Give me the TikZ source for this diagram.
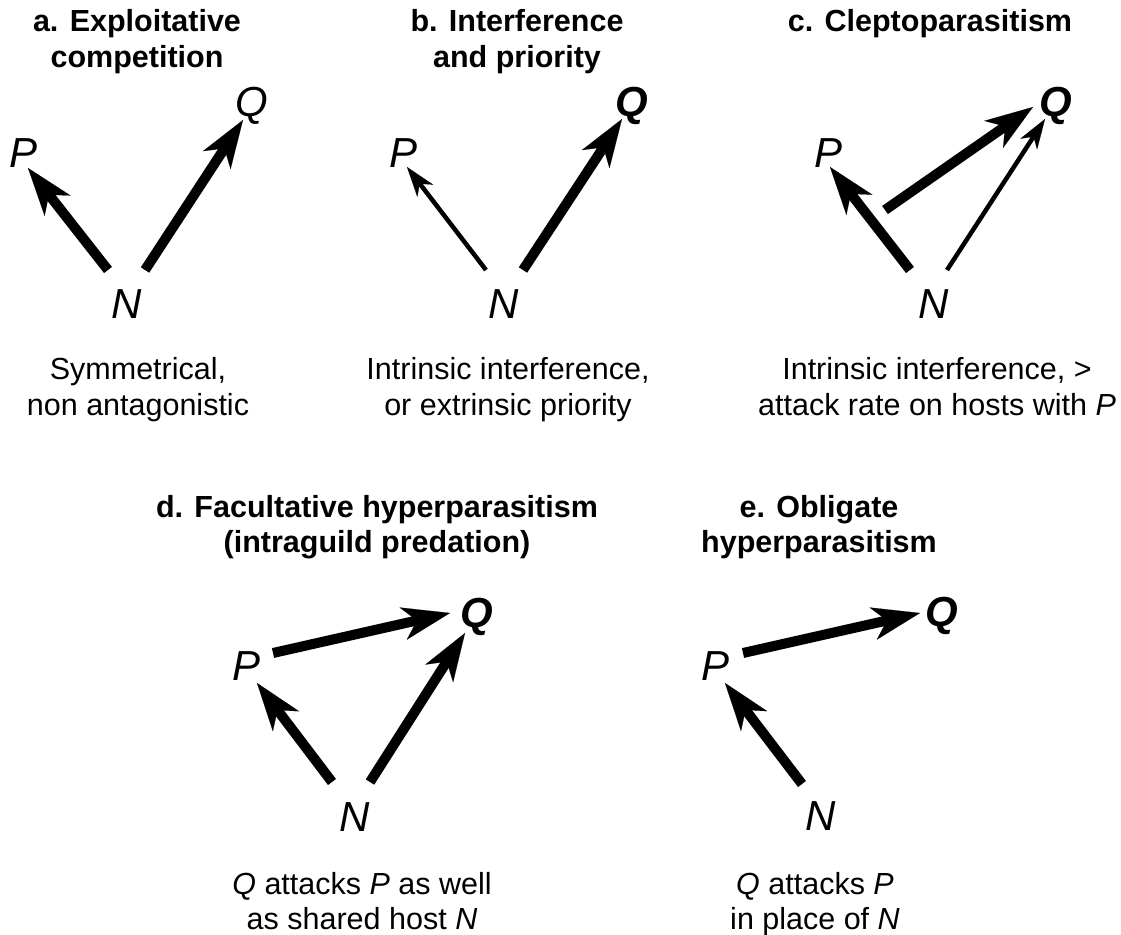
\documentclass[tikz,border=0pt]{standalone}
\usepackage{fontspec}
\setmainfont{Liberation Sans}
\usetikzlibrary{arrows.meta,calc}
\begin{document}
\begin{tikzpicture}[x=1pt,y=-1pt,
  ttl/.style={font=\fontsize{30.5}{35}\selectfont\bfseries, anchor=base, inner sep=0pt},
  captxt/.style={font=\fontsize{30.5}{35}\selectfont, anchor=base, inner sep=0pt},
  var/.style={font=\fontsize{42}{48}\selectfont\itshape, anchor=base, inner sep=0pt},
  bvar/.style={font=\fontsize{42}{48}\selectfont\bfseries\itshape, anchor=base, inner sep=0pt},
  fat/.style={line width=10pt, -{Stealth[length=48pt,width=33pt,inset=14pt,line width=0.1pt]}},
  slim/.style={line width=4.5pt, -{Stealth[length=30pt,width=20pt,inset=9pt,line width=0.1pt]}}]
\fill[white] (0,0) rectangle (1121,934);
\useasboundingbox (0,0) rectangle (1121,934);

% ---------- a ----------
\node[ttl] (ta1) at (137,32) {a. Exploitative};
\node[ttl] (ta2) at (137,67) {competition};
\node[var] (aP) at (24,167) {P};
\node[var] (aQ) at (252,116) {Q};
\node[var] (aN) at (127,318) {N};
\coordinate (aN1) at ($(aN.base)+(-19,-48)$);
\coordinate (aN2) at ($(aN.base)+(18,-48)$);
\coordinate (aPt) at ($(aP.base)+(4,1)$);
\coordinate (aQt) at ($(aQ.base)+(-9,4)$);
\draw[fat] (aN1) -- (aPt);
\draw[fat] (aN2) -- (aQt);
\node[captxt] (ca1) at (138,379) {Symmetrical,};
\node[captxt] (ca2) at (138,415) {non antagonistic};

% ---------- b ----------
\node[ttl] (tb1) at (517,32) {b. Interference};
\node[ttl] (tb2) at (517,67) {and priority};
\node[var] (bP) at (404,167) {P};
\node[bvar] (bQ) at (632,116) {Q};
\node[var] (bN) at (504,318) {N};
\coordinate (bN1) at ($(bN.base)+(-18,-48)$);
\coordinate (bN2) at ($(bN.base)+(19,-48)$);
\coordinate (bPt) at ($(bP.base)+(3,0)$);
\coordinate (bQt) at ($(bQ.base)+(-10,3)$);
\draw[slim] (bN1) -- (bPt);
\draw[fat] (bN2) -- (bQt);
\node[captxt] (cb1) at (508,379) {Intrinsic interference,};
\node[captxt] (cb2) at (508,415) {or extrinsic priority};

% ---------- c ----------
\node[ttl] (tc1) at (930,32) {c. Cleptoparasitism};
\node[var] (cP) at (828,167) {P};
\node[bvar] (cQ) at (1056,116) {Q};
\node[var] (cN) at (934,318) {N};
\coordinate (cN1) at ($(cN.base)+(-24,-48)$);
\coordinate (cN2) at ($(cN.base)+(13,-48)$);
\coordinate (cPt) at ($(cP.base)+(2,0)$);
\coordinate (cQt) at ($(cQ.base)+(-11,3)$);
\coordinate (cPs) at ($(cP.base)+(57,43)$);
\coordinate (cQt2) at ($(cQ.base)+(-23,-9)$);
\draw[fat] (cN1) -- (cPt);
\draw[slim] (cN2) -- (cQt);
\draw[fat] (cPs) -- (cQt2);
\node[captxt] (cc1) at (937,379) {Intrinsic interference, >};
\node[captxt] (cc2) at (937,415) {attack rate on hosts with \textit{P}};

% ---------- d ----------
\node[ttl] (td1) at (377,517) {d. Facultative hyperparasitism};
\node[ttl] (td2) at (377,552) {(intraguild predation)};
\node[var] (dP) at (247,680) {P};
\node[bvar] (dQ) at (477,627) {Q};
\node[var] (dN) at (355,831) {N};
\coordinate (dN1) at ($(dN.base)+(-23,-49)$);
\coordinate (dN2) at ($(dN.base)+(15,-49)$);
\coordinate (dPt) at ($(dP.base)+(10,3)$);
\coordinate (dQt) at ($(dQ.base)+(-12,6)$);
\coordinate (dPs) at ($(dP.base)+(26,-27)$);
\coordinate (dQt2) at ($(dQ.base)+(-27,-14)$);
\draw[fat] (dN1) -- (dPt);
\draw[fat] (dN2) -- (dQt);
\draw[fat] (dPs) -- (dQt2);
\node[captxt] (cd1) at (362,894) {\textit{Q} attacks \textit{P} as well};
\node[captxt] (cd2) at (362,929) {as shared host \textit{N}};

% ---------- e ----------
\node[ttl] (te1) at (819,517) {e. Obligate};
\node[ttl] (te2) at (819,552) {hyperparasitism};
\node[var] (eP) at (715,680) {P};
\node[bvar] (eQ) at (942,626) {Q};
\node[var] (eN) at (821,830) {N};
\coordinate (eN1) at ($(eN.base)+(-19,-46)$);
\coordinate (ePt) at ($(eP.base)+(10,3)$);
\coordinate (ePs) at ($(eP.base)+(28,-27)$);
\coordinate (eQt) at ($(eQ.base)+(-22,-13)$);
\draw[fat] (eN1) -- (ePt);
\draw[fat] (ePs) -- (eQt);
\node[captxt] (ce1) at (815,894) {\textit{Q} attacks \textit{P}};
\node[captxt] (ce2) at (815,929) {in place of \textit{N}};
\end{tikzpicture}
\end{document}
